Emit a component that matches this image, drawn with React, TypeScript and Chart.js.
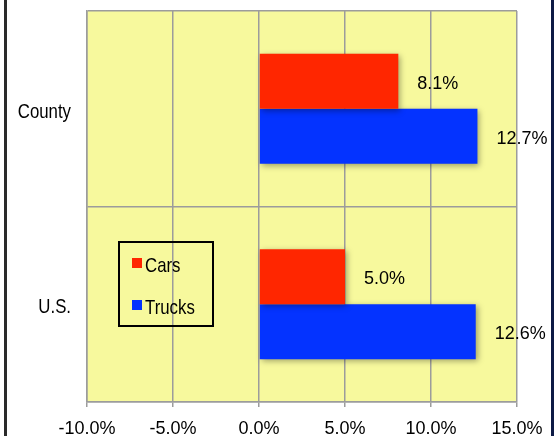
import React, { useEffect, useRef } from 'react';
import { Chart, registerables } from 'chart.js';

Chart.register(...registerables);

const categories = ['County', 'U.S.'];
const seriesNames = ['Cars', 'Trucks'];
const carsValues = [8.1, 5.0];
const trucksValues = [12.7, 12.6];
const xMin = -10;
const xMax = 15;
const xStep = 5;
const seriesColors = ['#FF2600', '#0433FF'];

const plotBg = '#F7F99D';
const gridColor = '#9C9C9C';
const narrowFont = '21px "Liberation Sans", Arial, sans-serif';
const narrowScale = 0.8;

function drawNarrow(ctx: CanvasRenderingContext2D, text: string, x: number, y: number, align: 'left' | 'right') {
  ctx.save();
  ctx.font = narrowFont;
  ctx.textBaseline = 'middle';
  ctx.textAlign = align;
  ctx.translate(x, y);
  ctx.scale(narrowScale, 1);
  ctx.fillText(text, 0, 0);
  ctx.restore();
}

const bgPlugin = {
  id: 'plotBg',
  beforeDraw(chart: any) {
    const { ctx, chartArea } = chart;
    ctx.save();
    ctx.fillStyle = '#ffffff';
    ctx.fillRect(0, 0, chart.width, chart.height);
    ctx.fillStyle = plotBg;
    ctx.fillRect(chartArea.left, chartArea.top, chartArea.right - chartArea.left, chartArea.bottom - chartArea.top);
    ctx.restore();
  },
  afterDraw(chart: any) {
    const { ctx } = chart;
    ctx.save();
    ctx.fillStyle = '#2a2a2a';
    ctx.fillRect(4, 0, 3, chart.height);
    ctx.fillStyle = '#0d1a45';
    ctx.fillRect(551, 0, 3, chart.height);
    ctx.restore();
  },
};

const shadowPlugin = {
  id: 'barShadow',
  beforeDatasetDraw(chart: any) {
    const ctx = chart.ctx;
    ctx.save();
    ctx.shadowColor = 'rgba(0,0,0,0.35)';
    ctx.shadowBlur = 6;
    ctx.shadowOffsetX = 2;
    ctx.shadowOffsetY = 2;
  },
  afterDatasetDraw(chart: any) {
    chart.ctx.restore();
  },
};

const labelPlugin = {
  id: 'valueLabels',
  afterDatasetsDraw(chart: any) {
    const ctx = chart.ctx;
    ctx.save();
    ctx.font = '18px "Liberation Sans", Arial, sans-serif';
    ctx.fillStyle = '#000000';
    ctx.textAlign = 'left';
    ctx.textBaseline = 'middle';
    chart.data.datasets.forEach((ds: any, di: number) => {
      const meta = chart.getDatasetMeta(di);
      meta.data.forEach((bar: any, i: number) => {
        const v = ds.data[i] as number;
        ctx.fillText(v.toFixed(1) + '%', bar.x + 19, bar.y + 2.5);
      });
    });
    ctx.restore();
  },
};

const categoryLabelPlugin = {
  id: 'categoryLabels',
  afterDraw(chart: any) {
    const ctx = chart.ctx;
    const yScale = chart.scales.y;
    ctx.save();
    ctx.fillStyle = '#000000';
    (chart.data.labels as string[]).forEach((lab, i) => {
      drawNarrow(ctx, lab, 71, yScale.getPixelForValue(i) + 3, 'right');
    });
    ctx.restore();
  },
};

const legendPlugin = {
  id: 'boxLegend',
  afterDraw(chart: any) {
    const ctx = chart.ctx;
    ctx.save();
    ctx.strokeStyle = '#000000';
    ctx.lineWidth = 2;
    ctx.strokeRect(119, 242, 94, 84);
    chart.data.datasets.forEach((ds: any, i: number) => {
      const y = 263 + i * 42;
      ctx.fillStyle = ds.backgroundColor;
      ctx.fillRect(132, y - 5, 10, 10);
      ctx.fillStyle = '#000000';
      drawNarrow(ctx, ds.label, 145, y + 3, 'left');
    });
    ctx.restore();
  },
};

export default function App() {
  const ref = useRef<HTMLCanvasElement | null>(null);
  useEffect(() => {
    if (!ref.current) return;
    const chart = new Chart(ref.current, {
      type: 'bar',
      data: {
        labels: categories,
        datasets: [
          { label: seriesNames[0], data: carsValues, backgroundColor: seriesColors[0] },
          { label: seriesNames[1], data: trucksValues, backgroundColor: seriesColors[1] },
        ],
      },
      options: {
        indexAxis: 'y',
        responsive: false,
        animation: false,
        devicePixelRatio: 1,
        layout: { padding: { left: 0, right: 41, top: 11, bottom: 0 } },
        datasets: { bar: { categoryPercentage: 0.563, barPercentage: 1 } },
        plugins: {
          legend: { display: false },
          tooltip: { enabled: false },
        },
        scales: {
          x: {
            type: 'linear',
            min: xMin,
            max: xMax,
            ticks: {
              stepSize: xStep,
              padding: 11,
              color: '#000000',
              font: { family: '"Liberation Sans", Arial, sans-serif', size: 18 },
              callback: (v: any) => Number(v).toFixed(1) + '%',
            },
            grid: { color: gridColor, lineWidth: 1.5, tickLength: 5, drawTicks: true },
            border: { color: gridColor, width: 1.5 },
            afterFit: (s: any) => { s.height = 34; s.paddingLeft = 0; s.paddingRight = 0; },
          },
          y: {
            type: 'category',
            ticks: { display: false },
            grid: { color: gridColor, lineWidth: 1.5, drawTicks: false, offset: true },
            border: { color: gridColor, width: 1.5 },
            afterFit: (s: any) => { s.width = 87; s.paddingTop = 0; s.paddingBottom = 0; },
          },
        },
      },
      plugins: [bgPlugin, shadowPlugin, labelPlugin, categoryLabelPlugin, legendPlugin],
    } as any);
    return () => chart.destroy();
  }, []);
  return (
    <div style={{ position: 'fixed', left: 0, top: 0, width: 558, height: 436, background: '#fff' }}>
      <canvas ref={ref} width={558} height={436} style={{ width: 558, height: 436, display: 'block' }} />
    </div>
  );
}
